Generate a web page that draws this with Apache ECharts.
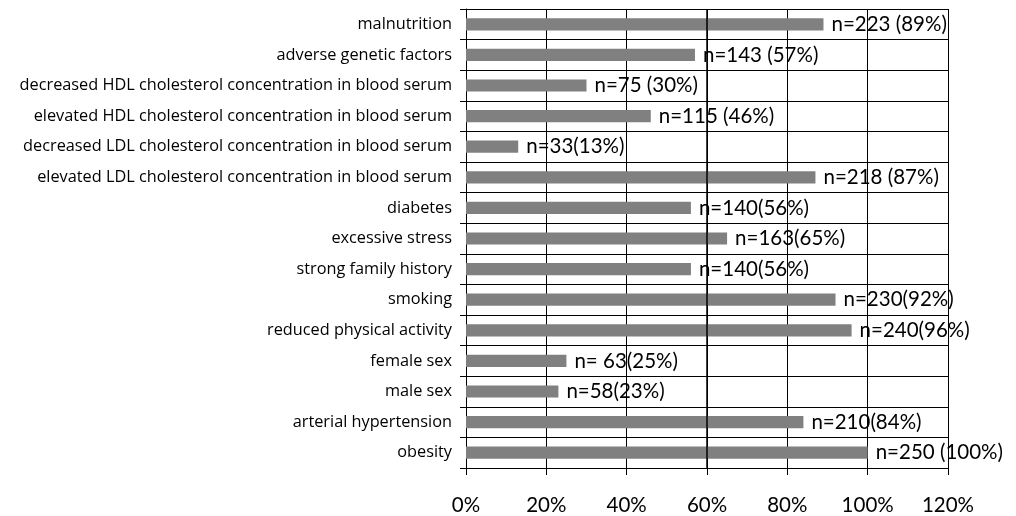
<!DOCTYPE html>
<html>
<head>
<meta charset="utf-8">
<script src="https://cdn.jsdelivr.net/npm/echarts@6/dist/echarts.min.js"></script>
<style>
html,body{margin:0;padding:0;background:#fff;}
#chart{width:1016px;height:516px;}
</style>
</head>
<body>
<div id="chart"></div>
<script>
const categories = [
  "malnutrition",
  "adverse genetic factors",
  "decreased HDL cholesterol concentration in blood serum",
  "elevated HDL cholesterol concentration in blood serum",
  "decreased LDL cholesterol concentration in blood serum",
  "elevated LDL cholesterol concentration in blood serum",
  "diabetes",
  "excessive stress",
  "strong family history",
  "smoking",
  "reduced physical activity",
  "female sex",
  "male sex",
  "arterial hypertension",
  "obesity"
];
const percentValues = [89, 57, 30, 46, 13, 87, 56, 65, 56, 92, 96, 25, 23, 84, 100];
const barLabels = [
  "n=223 (89%)",
  "n=143 (57%)",
  "n=75 (30%)",
  "n=115 (46%)",
  "n=33(13%)",
  "n=218 (87%)",
  "n=140(56%)",
  "n=163(65%)",
  "n=140(56%)",
  "n=230(92%)",
  "n=240(96%)",
  "n= 63(25%)",
  "n=58(23%)",
  "n=210(84%)",
  "n=250 (100%)"
];
const xTicks = { min: 0, max: 120, interval: 20 };

const chart = echarts.init(document.getElementById('chart'), null, {renderer: 'canvas'});
chart.setOption({
  animation: false,
  backgroundColor: '#ffffff',
  grid: { left: 466, right: 68, top: 9, bottom: 47, containLabel: false },
  xAxis: {
    type: 'value',
    min: xTicks.min, max: xTicks.max, interval: xTicks.interval,
    axisLine: { show: true, lineStyle: { color: '#000', width: 1 } },
    axisTick: { show: true, length: 7, inside: false, lineStyle: { color: '#000' } },
    splitLine: { show: true, lineStyle: { color: '#000', width: 1 } },
    axisLabel: { formatter: '{value}%', color: '#000', fontSize: 20.5, fontFamily: 'Lato', margin: 27 }
  },
  yAxis: {
    type: 'category',
    data: categories,
    inverse: true,
    axisLine: { show: true, lineStyle: { color: '#000', width: 1 } },
    axisTick: { show: true, length: 6, lineStyle: { color: '#000' } },
    splitLine: { show: true, lineStyle: { color: '#000', width: 1 } },
    axisLabel: { color: '#000', fontSize: 16.3, fontFamily: 'Open Sans', margin: 14 }
  },
  series: [{
    type: 'bar',
    data: percentValues,
    barWidth: '40%',
    itemStyle: { color: '#808080' },
    label: {
      show: true,
      position: 'right',
      distance: 8,
      color: '#000',
      fontSize: 20.5,
      fontFamily: 'Lato',
      formatter: p => barLabels[p.dataIndex]
    },
    markLine: {
      silent: true,
      symbol: 'none',
      label: { show: false },
      lineStyle: { color: '#000', width: 1.5, type: 'solid' },
      data: [{ xAxis: 60 }]
    }
  }]
});
</script>
</body>
</html>
